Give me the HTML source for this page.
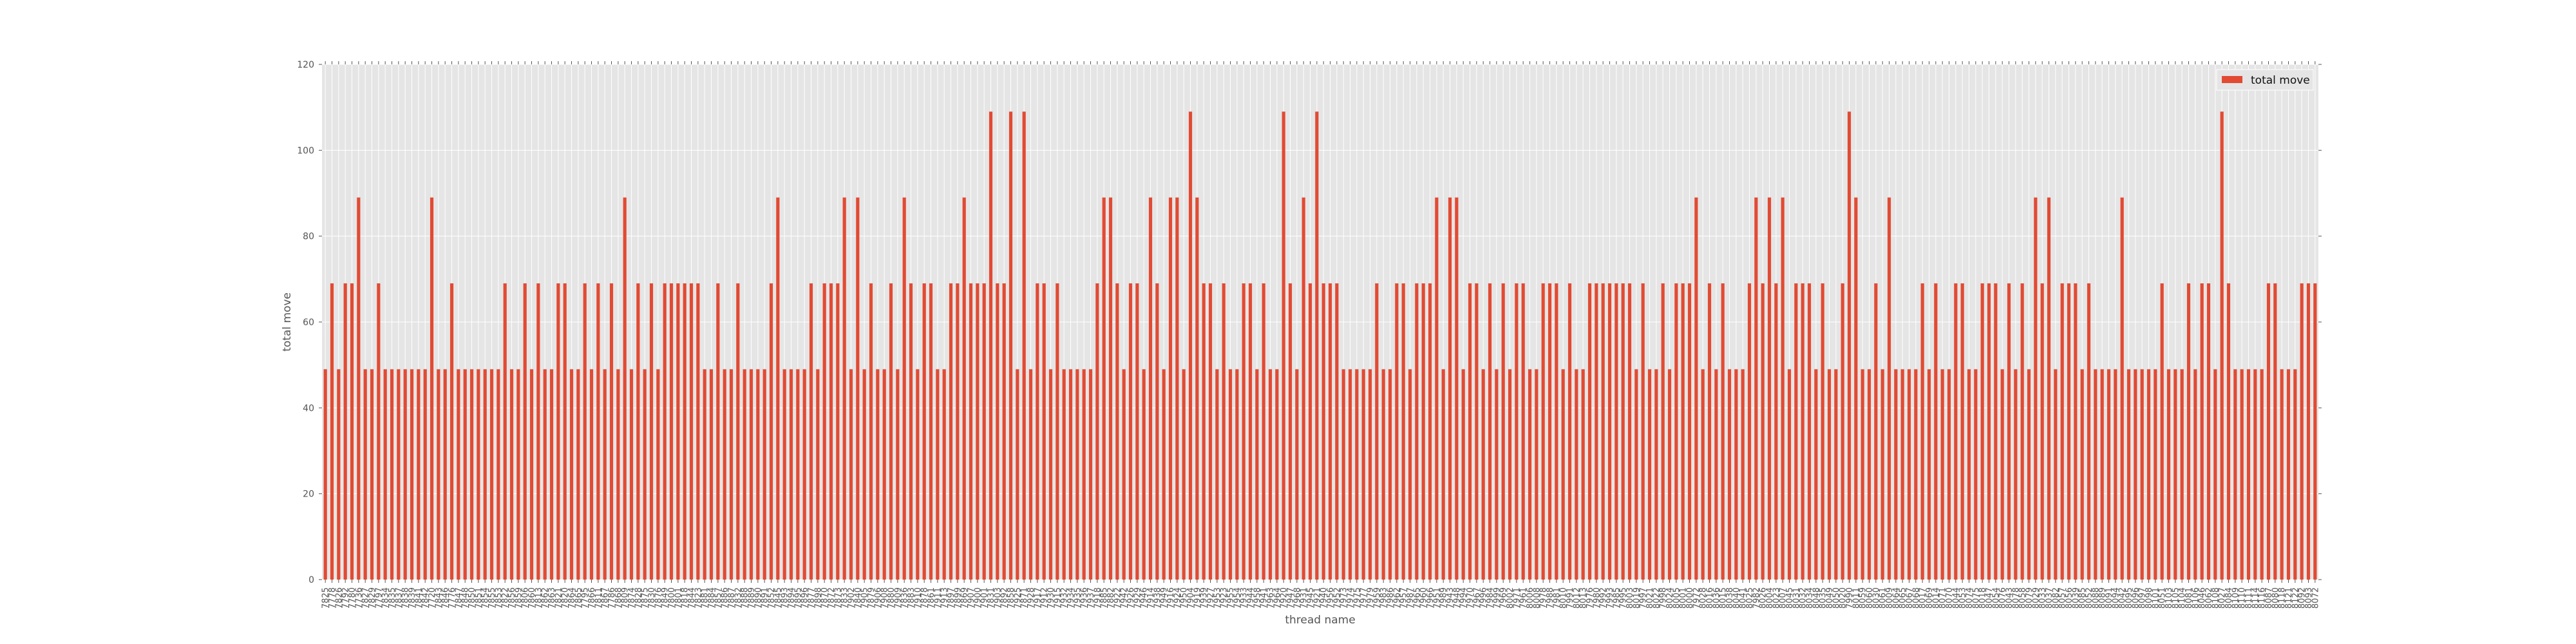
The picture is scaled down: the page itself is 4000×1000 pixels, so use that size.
<!DOCTYPE html>
<html><head><meta charset="utf-8"><title>total move by thread</title>
<style>
html,body{margin:0;padding:0;background:#fff;}
svg{display:block;font-family:"DejaVu Sans","Liberation Sans",sans-serif;}
</style></head>
<body>
<svg id="chart" width="4000" height="1000" viewBox="0 0 4000 1000" xmlns="http://www.w3.org/2000/svg">
<rect x="500" y="100" width="3100" height="800" fill="#e5e5e5"/>
<g id="grid"></g>
<g id="bars"></g>
<g id="xticks"></g>
<g id="yticks"></g>
<text x="451" y="500" font-size="17" fill="#555" text-anchor="middle" transform="rotate(-90 451 500)">total move</text>
<text x="2050" y="968" font-size="17" fill="#555" text-anchor="middle">thread name</text>
<g>
<rect x="3442" y="108" width="150" height="32" fill="#e5e5e5" stroke="#fff" stroke-width="1"/>
<rect x="3450" y="118" width="32" height="11" fill="#e24a33"/>
<text x="3495" y="130" font-size="17" fill="#111">total move</text>
</g>
</svg>
<script>
const categories = ["7825","7778","7826","7792","7780","7736","7827","7829","7797","7834","7835","7837","7838","7839","7841","7842","7720","7843","7846","7776","7847","7848","7850","7851","7854","7855","7853","7822","7856","7859","7806","7860","7813","7862","7863","7821","7820","7864","7865","7795","7866","7811","7867","7786","7868","7809","7874","7828","7875","7830","7876","7849","7800","7801","7818","7844","7823","7881","7884","7857",
"7886","7887","7832","7888","7889","7890","7891","7852","7845","7893","7894","7895","7896","7877","7898","7870","7872","7873","7833","7902","7840","7905","7879","7906","7908","7880","7909","7836","7883","7910","7878","7861","7911","7913","7897","7899","7869","7907","7900","7901","7831","7903","7892","7858","7925","7871","7928","7917","7912","7930","7915","7932","7934","7935","7936","7937","7918","7885","7882","7922",
"7942","7926","7929","7946","7914","7938","7949","7916","7924","7950","7904","7919","7939","7927","7953","7923","7955","7954","7933","7944","7958","7941","7963","7964","7920","7947","7968","7931","7945","7921","7940","7956","7952","7973","7974","7975","7977","7979","7959","7983","7986","7962","7957","7987","7965","7960","7966","7951","7989","7943","7948","7994","7970","7967","7996","7984","7999","7969","8002","7971",
"7961","8006","8008","7978","7988","7981","8010","7991","8012","8013","7976","7980","7992","7993","7985","7995","8003","8019","7997","8021","8022","7998","8024","8005","8001","8000","7972","8028","8016","8036","8015","8038","8040","8041","8025","7982","8026","8004","8023","8007","8045","8031","8032","8034","8048","8035","8049","8050","8020","7990","8011","8059","8060","8030","8061","8009","8064","8065","8067","8068",
"8017","8069","8014","8071","8070","8044","8053","8074","8075","8018","8047","8054","8076","8043","8078","8058","8079","8029","8033","8037","8082","8057","8056","8039","8085","8052","8088","8089","8091","8094","8042","8095","8096","8097","8098","8101","8051","8103","8105","8104","8081","8106","8046","8062","8108","8027","8084","8109","8110","8111","8114","8116","8087","8080","8118","8121","8122","8092","8093","8072"];
const values = [49,69,49,69,69,89,49,49,69,49,49,49,49,49,49,49,89,49,49,69,49,49,49,49,49,49,49,69,49,49,69,49,69,49,49,69,69,49,49,69,49,69,49,69,49,89,49,69,49,69,49,69,69,69,69,69,69,49,49,69,
49,49,69,49,49,49,49,69,89,49,49,49,49,69,49,69,69,69,89,49,89,49,69,49,49,69,49,89,69,49,69,69,49,49,69,69,89,69,69,69,109,69,69,109,49,109,49,69,69,49,69,49,49,49,49,49,69,89,89,69,
49,69,69,49,89,69,49,89,89,49,109,89,69,69,49,69,49,49,69,69,49,69,49,49,109,69,49,89,69,109,69,69,69,49,49,49,49,49,69,49,49,69,69,49,69,69,69,89,49,89,89,49,69,69,49,69,49,69,49,69,
69,49,49,69,69,69,49,69,49,49,69,69,69,69,69,69,69,49,69,49,49,69,49,69,69,69,89,49,69,49,69,49,49,49,69,89,69,89,69,89,49,69,69,69,49,69,49,49,69,109,89,49,49,69,49,89,49,49,49,49,
69,49,69,49,49,69,69,49,49,69,69,69,49,69,49,69,49,89,69,89,49,69,69,69,49,69,49,49,49,49,89,49,49,49,49,49,69,49,49,49,69,49,69,69,49,109,69,49,49,49,49,49,69,69,49,49,49,69,69,69];
const yTicks = [0,20,40,60,80,100,120];

const NS = "http://www.w3.org/2000/svg";
const X0 = 500, X1 = 3600, Y0 = 900, Y1 = 100, YMAX = 120;
const n = categories.length;
const step = (X1 - X0) / n;
function xScale(i){ return X0 + step * (i + 0.5); }
function yScale(v){ return Y0 - (v / YMAX) * (Y0 - Y1); }
function mk(tag, attrs){ const e = document.createElementNS(NS, tag); for (const k in attrs) e.setAttribute(k, attrs[k]); return e; }

const grid = document.getElementById('grid');
const bars = document.getElementById('bars');
const xt = document.getElementById('xticks');
const yt = document.getElementById('yticks');

yTicks.forEach(function(t){
  const y = yScale(t);
  const gl = mk('line', {x1:X0, x2:X1, y1:y, y2:y, stroke:'#fff', 'stroke-width':1});
  
  
  grid.appendChild(gl);
  const tk = mk('line', {x1:X0-5, x2:X0, y1:y, y2:y, stroke:'#555', 'stroke-width':1});
  
  
  yt.appendChild(tk);
  const tk2 = mk('line', {x1:X1, x2:X1+5, y1:y, y2:y, stroke:'#555', 'stroke-width':1});
  
  
  yt.appendChild(tk2);
  const lb = mk('text', {x:X0-12, y:y+5, 'font-size':14, fill:'#555', 'text-anchor':'end'});
  
  
  lb.textContent = t;
  yt.appendChild(lb);
});

categories.forEach(function(c, i){
  const x = xScale(i);
  const gl = mk('line', {x1:x, x2:x, y1:Y1, y2:Y0, stroke:'#fff', 'stroke-width':1});
  
  
  grid.appendChild(gl);
  const w = step * 0.5;
  const y = yScale(values[i]);
  const b = mk('rect', {x:x - w/2, y:y, width:w, height:Y0 - y, fill:'#e24a33'});
  
  
  bars.appendChild(b);
  const tb = mk('line', {x1:x, x2:x, y1:Y0, y2:Y0+5, stroke:'#555', 'stroke-width':1});
  
  
  xt.appendChild(tb);
  const tt = mk('line', {x1:x, x2:x, y1:Y1-5, y2:Y1, stroke:'#555', 'stroke-width':1});
  
  
  xt.appendChild(tt);
  const lb = mk('text', {x:0, y:0, 'font-size':13, fill:'#555', 'text-anchor':'end', transform:'translate(' + (x+4.5) + ',' + (Y0+12) + ') rotate(-90)'});
  
  
  lb.textContent = c;
  xt.appendChild(lb);
});
</script>
</body></html>
